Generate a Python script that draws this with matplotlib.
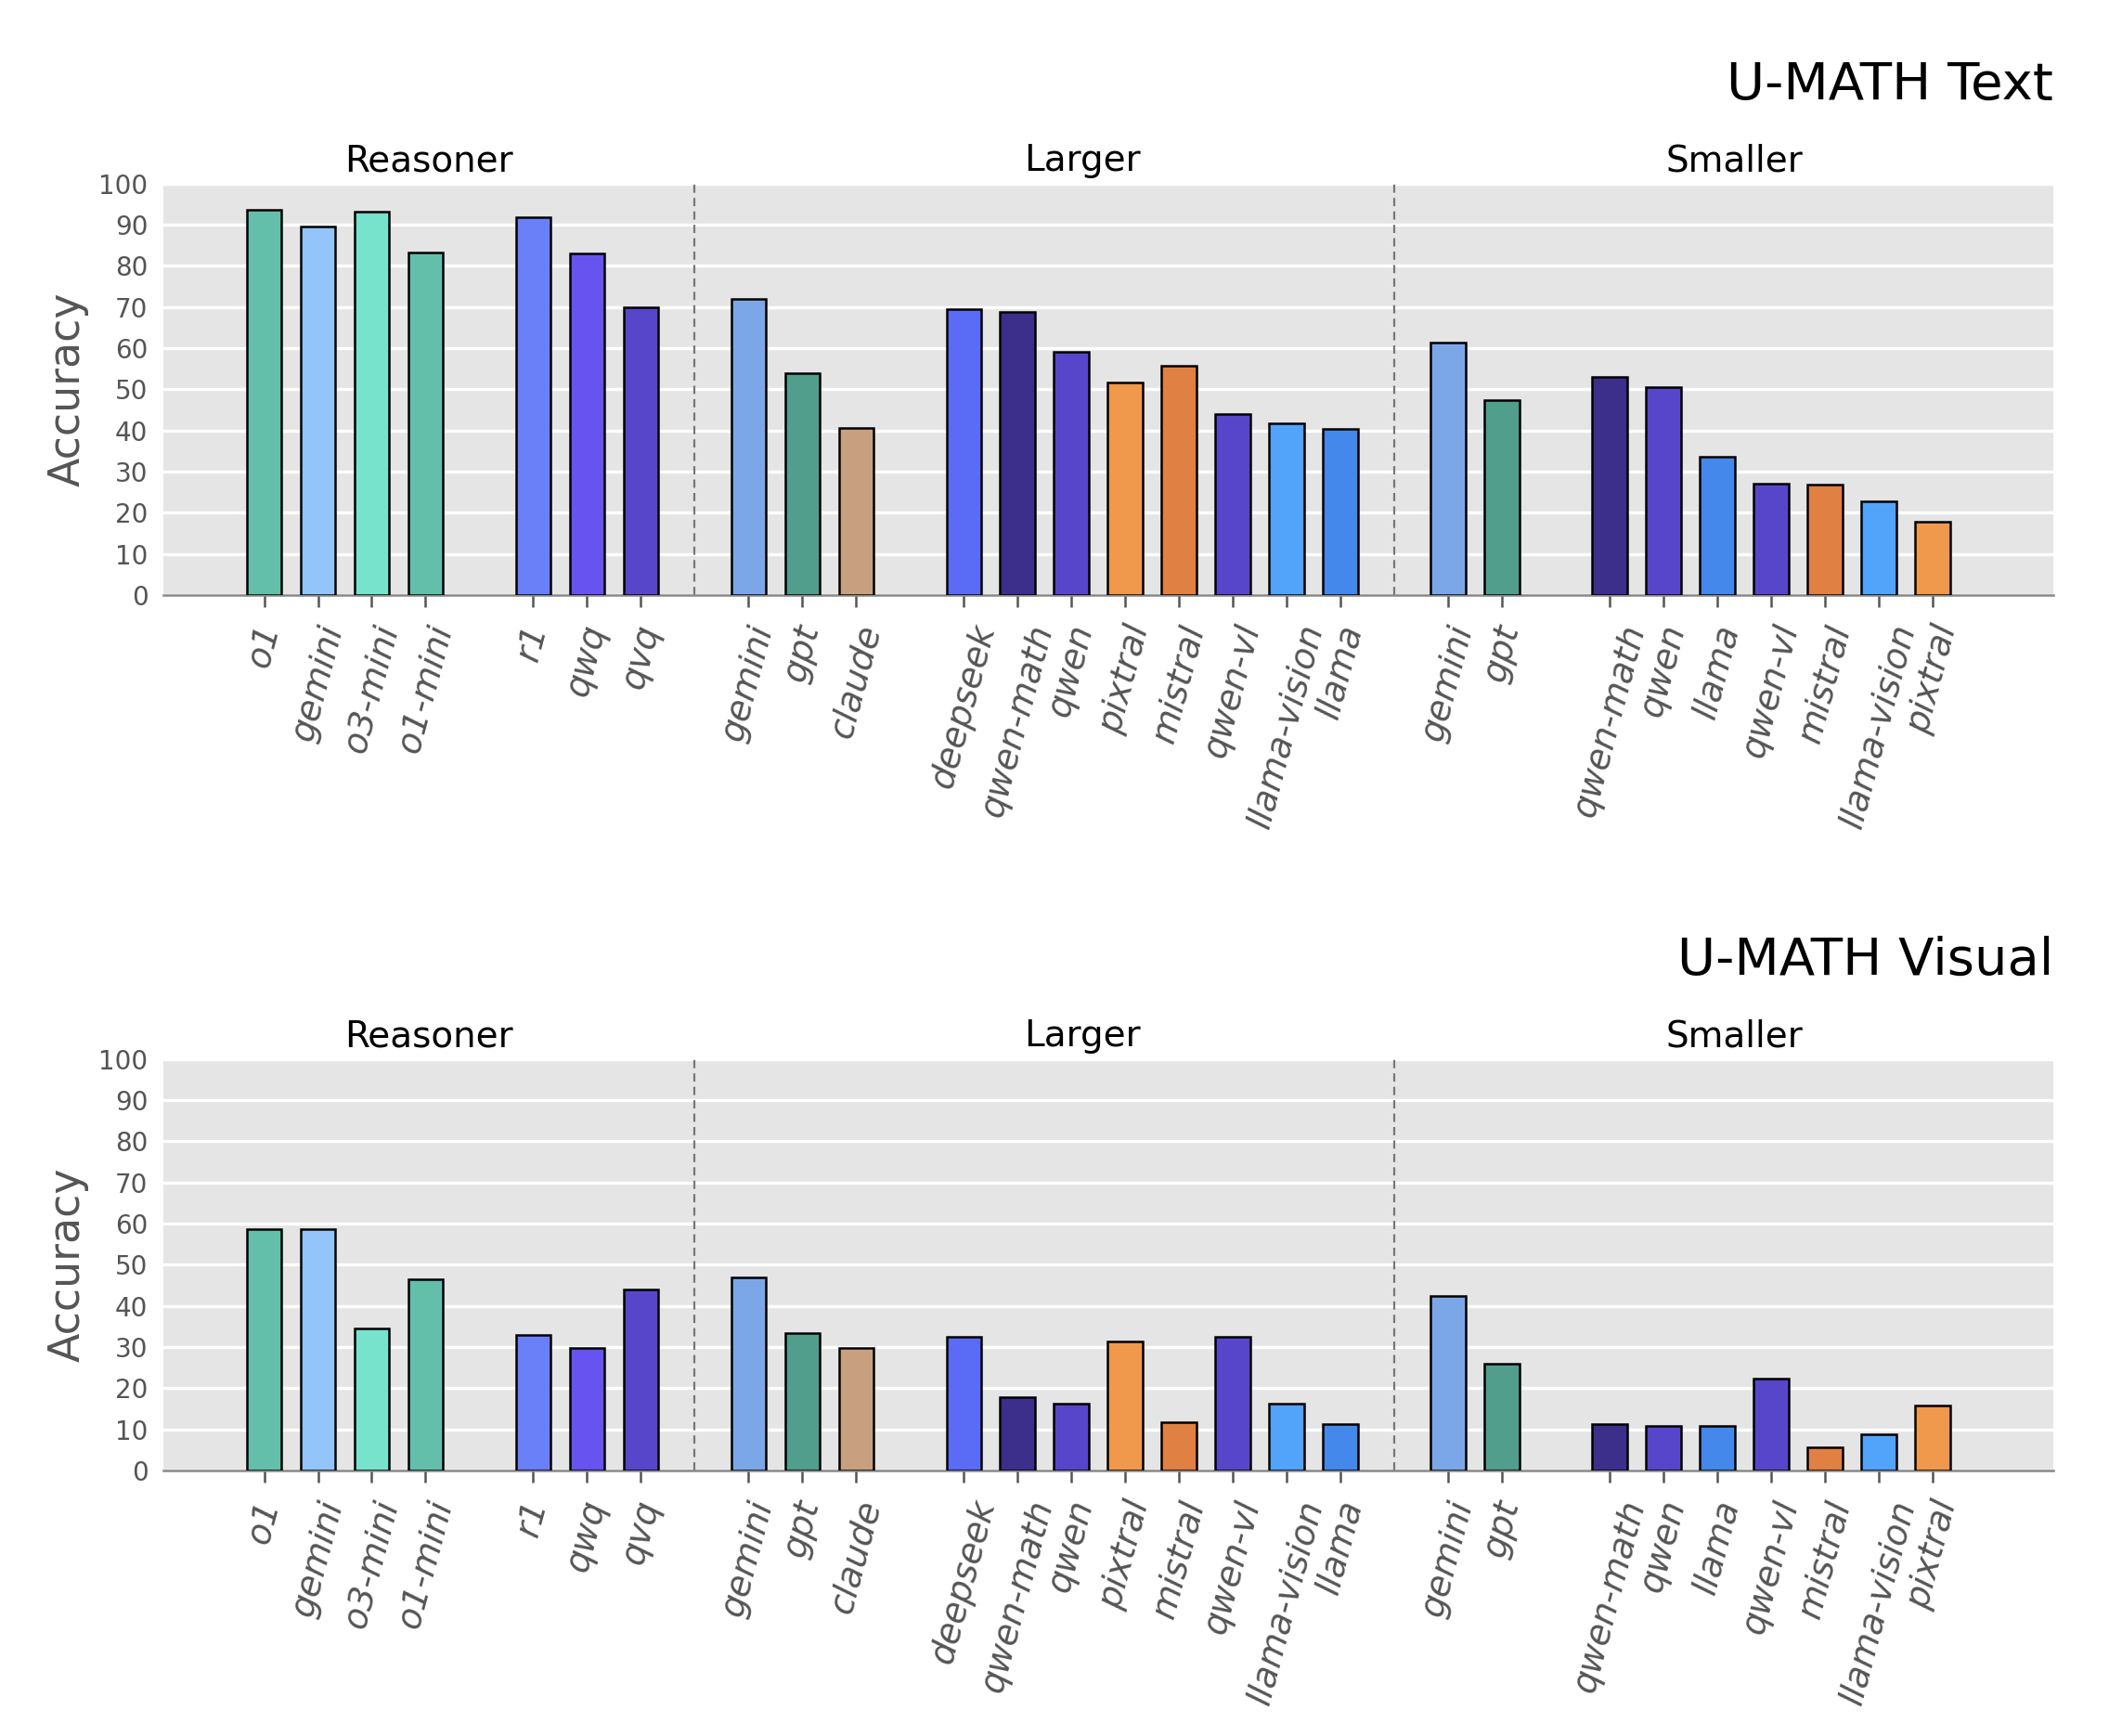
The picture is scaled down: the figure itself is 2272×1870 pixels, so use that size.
import matplotlib
matplotlib.use("Agg")
import matplotlib.pyplot as plt

# ---------------- data ----------------
group_names = ["Reasoner", "Larger", "Smaller"]

reasoner_sub1 = ["o1", "gemini", "o3-mini", "o1-mini"]
reasoner_sub2 = ["r1", "qwq", "qvq"]
larger_sub1 = ["gemini", "gpt", "claude"]
larger_sub2 = ["deepseek", "qwen-math", "qwen", "pixtral", "mistral", "qwen-vl", "llama-vision", "llama"]
smaller_sub1 = ["gemini", "gpt"]
smaller_sub2 = ["qwen-math", "qwen", "llama", "qwen-vl", "mistral", "llama-vision", "pixtral"]

reasoner_colors = ["#64BFAA", "#94C5FA", "#77E3CC", "#64BFAA", "#6A80F8", "#6753F0", "#5746C9"]
larger_colors = ["#7BA7E8", "#529E8C", "#C8A080", "#5A6BF5", "#3C2F8C", "#5746C9",
                 "#F0984C", "#E08042", "#5746C9", "#52A3FA", "#4388EA"]
smaller_colors = ["#7BA7E8", "#529E8C", "#3C2F8C", "#5746C9", "#4388EA", "#5746C9",
                  "#E08042", "#52A3FA", "#F0984C"]

text_reasoner = [93.5, 89.5, 93.1, 83.2, 91.7, 82.9, 69.9]
text_larger = [71.9, 54.0, 40.6, 69.5, 68.9, 59.1, 51.6, 55.7, 43.9, 41.8, 40.4]
text_smaller = [61.4, 47.3, 53.0, 50.5, 33.6, 27.1, 26.8, 22.8, 17.8]

visual_reasoner = [58.6, 58.6, 34.5, 46.5, 33.0, 29.8, 43.9]
visual_larger = [47.0, 33.4, 29.8, 32.4, 17.8, 16.3, 31.4, 11.7, 32.4, 16.3, 11.3]
visual_smaller = [42.4, 25.9, 11.3, 10.8, 10.8, 22.3, 5.7, 8.7, 15.8]

panel_titles = ["U-MATH Text", "U-MATH Visual"]
yticks = list(range(0, 101, 10))

# ---------------- layout from group structure ----------------
groups = [
    [reasoner_sub1, reasoner_sub2],
    [larger_sub1, larger_sub2],
    [smaller_sub1, smaller_sub2],
]
group_colors = [reasoner_colors, larger_colors, smaller_colors]

positions, labels, colors, sep_lines, group_spans = [], [], [], [], []
x = 0
for gi, grp in enumerate(groups):
    start = x
    for si, sub in enumerate(grp):
        for lab in sub:
            positions.append(x)
            labels.append(lab)
            x += 1
        if si < len(grp) - 1:
            x += 1  # gap between subgroups
    end = x - 1
    group_spans.append((start, end))
    colors.extend(group_colors[gi])
    if gi < len(groups) - 1:
        sep_lines.append(x)
        x += 1

xlim = (-1.87, positions[-1] + 2.24)
title_offsets = [0.0, 0.7, 0.2]   # small shifts of group titles from region centres

panels = [
    text_reasoner + text_larger + text_smaller,
    visual_reasoner + visual_larger + visual_smaller,
]

# ---------------- figure ----------------
fig = plt.figure(figsize=(11.36, 9.35), dpi=200)
axes_rects = [
    [0.0775, 0.6572, 0.8961, 0.2371],
    [0.0775, 0.1529, 0.8961, 0.2372],
]

for pi, vals in enumerate(panels):
    ax = fig.add_axes(axes_rects[pi])
    ax.set_facecolor("#E5E5E5")
    ax.bar(positions, vals, width=0.65, color=colors, edgecolor="black",
           linewidth=0.9, zorder=3)
    ax.set_xlim(*xlim)
    ax.set_ylim(0, 100)
    ax.set_yticks(yticks)
    ax.yaxis.grid(True, color="white", linewidth=1.2, zorder=0)
    ax.xaxis.grid(False)
    ax.set_axisbelow(True)
    for s in ["top", "right", "left"]:
        ax.spines[s].set_visible(False)
    ax.spines["bottom"].set_color("#888888")
    ax.spines["bottom"].set_linewidth(0.9)
    ax.set_xticks(positions)
    ax.set_xticklabels(labels, rotation=75, ha="center", fontsize=13.5,
                       style="italic", color="#555555")
    ax.tick_params(axis="x", length=4.5, width=0.9, color="#555555",
                   direction="out", pad=5.5)
    ax.tick_params(axis="y", length=0, labelsize=10, labelcolor="#555555", pad=6)
    for sl in sep_lines:
        ax.axvline(sl, color="#777777", linestyle=(0, (4, 2.5)), linewidth=0.8, zorder=2)
    ax.set_ylabel("Accuracy", fontsize=16.5, color="#555555", labelpad=4)

    bounds = [xlim[0]] + sep_lines + [xlim[1]]
    for gi, name in enumerate(group_names):
        cx = (bounds[gi] + bounds[gi + 1]) / 2 + title_offsets[gi]
        ax.text(cx, 101.2, name, ha="center", va="bottom", fontsize=14,
                color="black", transform=ax.transData)
    ax.text(1.0, 1.177, panel_titles[pi], transform=ax.transAxes, ha="right",
            va="bottom", fontsize=20.2, color="black")

fig.savefig("out.png", dpi=200)
